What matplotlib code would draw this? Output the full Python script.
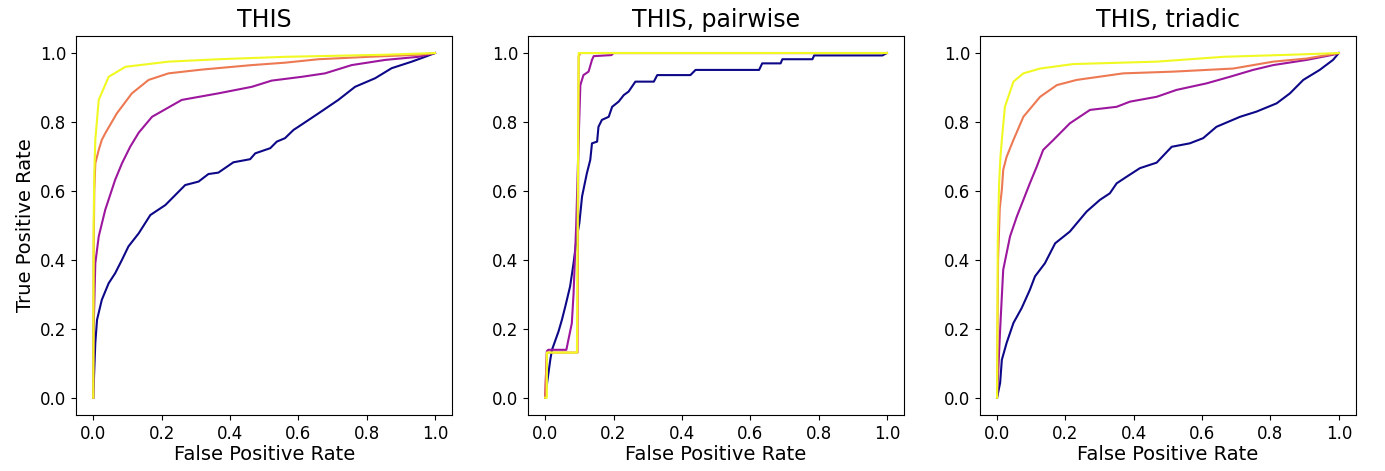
import matplotlib
matplotlib.use("Agg")
import matplotlib.pyplot as plt

titles = ["THIS", "THIS, pairwise", "THIS, triadic"]
colors = ["#0d0887", "#9c179e", "#ed7953", "#f0f921"]

# panel 1: THIS
this_fpr_0 = [0, 0.0, 0.006, 0.011, 0.025, 0.045, 0.064, 0.084, 0.103, 0.133, 0.167, 0.211, 0.269,
              0.308, 0.337, 0.366, 0.410, 0.459, 0.474, 0.518, 0.537, 0.561, 0.586, 0.6, 0.659,
              0.717, 0.766, 0.825, 0.873, 0.932, 0.971, 1.0]
this_tpr_0 = [0, 0.004, 0.159, 0.226, 0.284, 0.332, 0.361, 0.4, 0.439, 0.477, 0.530, 0.559, 0.617,
              0.627, 0.649, 0.653, 0.683, 0.692, 0.709, 0.724, 0.743, 0.753, 0.777, 0.786, 0.825,
              0.864, 0.902, 0.927, 0.956, 0.975, 0.989, 1.0]
this_fpr_1 = [0, 0.001, 0.006, 0.016, 0.035, 0.064, 0.084, 0.108, 0.133, 0.172, 0.259, 0.366,
              0.464, 0.522, 0.610, 0.678, 0.756, 0.854, 0.951, 1.0]
this_tpr_1 = [0, 0.197, 0.39, 0.468, 0.545, 0.632, 0.680, 0.728, 0.769, 0.815, 0.864, 0.883,
              0.902, 0.920, 0.931, 0.941, 0.965, 0.980, 0.989, 1.0]
this_fpr_2 = [0, 0.001, 0.003, 0.006, 0.016, 0.025, 0.035, 0.069, 0.113, 0.162, 0.220, 0.318,
              0.464, 0.561, 0.659, 0.805, 0.951, 1.0]
this_tpr_2 = [0, 0.4, 0.6, 0.680, 0.719, 0.748, 0.767, 0.825, 0.883, 0.922, 0.941, 0.952,
              0.965, 0.972, 0.982, 0.989, 0.995, 1.0]
this_fpr_3 = [0, 0.001, 0.003, 0.006, 0.016, 0.045, 0.094, 0.220, 0.366, 0.561, 0.854, 1.0]
this_tpr_3 = [0, 0.5, 0.65, 0.748, 0.864, 0.931, 0.960, 0.975, 0.982, 0.989, 0.995, 1.0]

# panel 2: THIS, pairwise
pair_fpr_0 = [0, 0.005, 0.015, 0.020, 0.039, 0.049, 0.059, 0.073, 0.083, 0.093, 0.1, 0.108, 0.122,
              0.132, 0.137, 0.152, 0.156, 0.166, 0.186, 0.196, 0.215, 0.230, 0.244, 0.264, 0.318,
              0.328, 0.425, 0.440, 0.626, 0.635, 0.689, 0.694, 0.782, 0.787, 0.987, 1.0]
pair_tpr_0 = [0, 0.038, 0.110, 0.139, 0.192, 0.226, 0.265, 0.323, 0.390, 0.468, 0.506, 0.584, 0.651,
              0.690, 0.738, 0.743, 0.786, 0.806, 0.815, 0.844, 0.859, 0.878, 0.888, 0.917, 0.917,
              0.936, 0.936, 0.951, 0.951, 0.970, 0.970, 0.982, 0.982, 0.993, 0.993, 1.0]
pair_fpr_1 = [0, 0.005, 0.009, 0.062, 0.068, 0.078, 0.083, 0.091, 0.098, 0.103, 0.112, 0.127,
              0.137, 0.142, 0.194, 0.2, 1.0]
pair_tpr_1 = [0, 0.135, 0.139, 0.139, 0.168, 0.216, 0.3, 0.507, 0.75, 0.907, 0.936, 0.946,
              0.980, 0.991, 0.994, 1.0, 1.0]
pair_fpr_2 = [0, 0.005, 0.095, 0.098, 0.103, 1.0]
pair_tpr_2 = [0, 0.131, 0.131, 0.99, 1.0, 1.0]
pair_fpr_3 = [0, 0.005, 0.005, 0.093, 0.098, 1.0]
pair_tpr_3 = [0, 0.0, 0.131, 0.131, 1.0, 1.0]

# panel 3: THIS, triadic
tri_fpr_0 = [0, 0.009, 0.014, 0.028, 0.048, 0.072, 0.096, 0.111, 0.140, 0.170, 0.213, 0.262,
             0.301, 0.330, 0.350, 0.379, 0.418, 0.467, 0.511, 0.564, 0.603, 0.642, 0.711,
             0.759, 0.818, 0.857, 0.896, 0.944, 0.983, 1.0]
tri_tpr_0 = [0, 0.043, 0.110, 0.159, 0.217, 0.260, 0.313, 0.352, 0.390, 0.448, 0.482, 0.540,
             0.574, 0.593, 0.622, 0.641, 0.666, 0.682, 0.728, 0.738, 0.753, 0.786, 0.815,
             0.830, 0.854, 0.883, 0.922, 0.951, 0.980, 1.0]
tri_fpr_1 = [0, 0.009, 0.014, 0.018, 0.038, 0.058, 0.077, 0.096, 0.116, 0.135, 0.165, 0.213,
             0.272, 0.350, 0.389, 0.467, 0.525, 0.613, 0.681, 0.749, 0.808, 0.906, 0.983, 1.0]
tri_tpr_1 = [0, 0.197, 0.294, 0.371, 0.468, 0.526, 0.574, 0.622, 0.670, 0.719, 0.748, 0.796,
             0.835, 0.844, 0.859, 0.873, 0.893, 0.912, 0.931, 0.951, 0.965, 0.980, 0.995, 1.0]
tri_fpr_2 = [0, 0.003, 0.008, 0.014, 0.018, 0.028, 0.048, 0.077, 0.126, 0.175, 0.233, 0.369,
             0.515, 0.691, 0.808, 0.906, 1.0]
tri_tpr_2 = [0, 0.4, 0.55, 0.603, 0.661, 0.699, 0.748, 0.815, 0.873, 0.907, 0.922, 0.941,
             0.946, 0.955, 0.975, 0.984, 1.0]
tri_fpr_3 = [0, 0.002, 0.006, 0.01, 0.014, 0.023, 0.048, 0.077, 0.126, 0.223, 0.467, 0.662, 0.857, 1.0]
tri_tpr_3 = [0, 0.45, 0.62, 0.7, 0.748, 0.844, 0.917, 0.941, 0.955, 0.968, 0.975, 0.989, 0.995, 1.0]

panels = [
    [(this_fpr_0, this_tpr_0), (this_fpr_1, this_tpr_1), (this_fpr_2, this_tpr_2), (this_fpr_3, this_tpr_3)],
    [(pair_fpr_0, pair_tpr_0), (pair_fpr_1, pair_tpr_1), (pair_fpr_2, pair_tpr_2), (pair_fpr_3, pair_tpr_3)],
    [(tri_fpr_0, tri_tpr_0), (tri_fpr_1, tri_tpr_1), (tri_fpr_2, tri_tpr_2), (tri_fpr_3, tri_tpr_3)],
]

fig, axes = plt.subplots(1, 3, figsize=(13.85, 4.71), dpi=100)
fig.subplots_adjust(left=0.055, right=0.979, bottom=0.119, top=0.924, wspace=0.202)

for ax, title, curves in zip(axes, titles, panels):
    for (fpr, tpr), c in zip(curves, colors):
        ax.plot(fpr, tpr, color=c, lw=1.5)
    ax.set_title(title, fontsize=17)
    ax.set_xlabel("False Positive Rate", fontsize=14, labelpad=2)
    ax.tick_params(labelsize=12)
axes[0].set_ylabel("True Positive Rate", fontsize=14, labelpad=4)

fig.savefig("out.png", dpi=100)
